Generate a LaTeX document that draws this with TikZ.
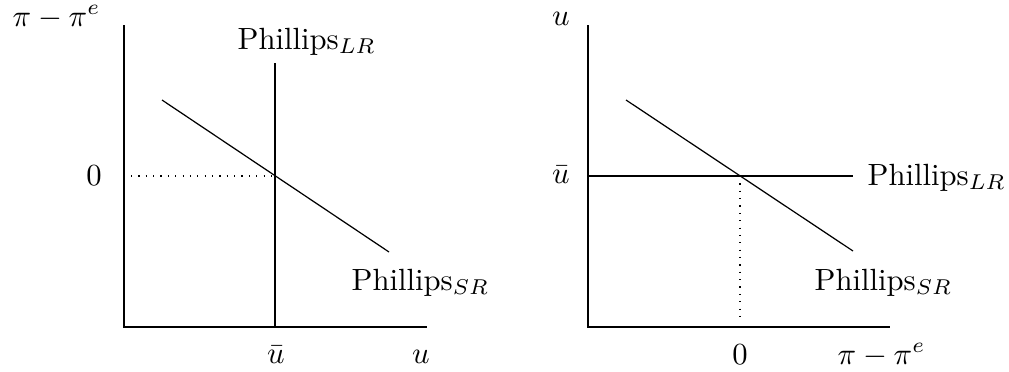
\documentclass[tikz,border=0pt]{standalone}
\begin{document}
\begin{tikzpicture}[x=0.326pt,y=-0.326pt,
  axis/.style={line width=0.5pt},
  curve/.style={line width=0.4pt},
  guide/.style={dotted,line width=0.4pt},
  lbl/.style={inner sep=0pt,anchor=base west},
  clbl/.style={inner sep=0pt,anchor=base}]
\useasboundingbox (0,0) rectangle (1009,372);
% ---- left panel ----
\coordinate (LO) at (124,327);
\coordinate (LYtop) at (124,25);
\coordinate (LXend) at (427,327);
\coordinate (LRtop) at (275,63);
\coordinate (LRbot) at (275,327);
\coordinate (SRa) at (162,100);
\coordinate (SRb) at (389,252);
\coordinate (Dst) at (131,176);
\coordinate (Den) at (275,176);
\draw[axis] (LYtop) -- (LO) -- (LXend);
\draw[curve] (LRtop) -- (LRbot);
\draw[curve] (SRa) -- (SRb);
\draw[guide] (Dst) -- (Den);
\node[lbl] (ly) at (12,26) {$\pi-\pi^e$};
\node[clbl] (lzero) at (94,185) {$0$};
\node[lbl] (llr) at (237,49) {Phillips$_{LR}$};
\node[lbl] (lsr) at (351,290) {Phillips$_{SR}$};
\node[clbl] (lubar) at (276,363) {$\bar u$};
\node[clbl] (lu) at (421,363) {$u$};
% ---- right panel ----
\coordinate (RO) at (588,327);
\coordinate (RYtop) at (588,25);
\coordinate (RXend) at (890,327);
\coordinate (RLa) at (588,176);
\coordinate (RLb) at (853,176);
\coordinate (RSa) at (626,100);
\coordinate (RSb) at (853,251);
\coordinate (RDt) at (740,176);
\coordinate (RDb) at (740,322);
\draw[axis] (RYtop) -- (RO) -- (RXend);
\draw[curve] (RLa) -- (RLb);
\draw[curve] (RSa) -- (RSb);
\draw[guide] (RDt) -- (RDb);
\node[clbl] (ru) at (561,25) {$u$};
\node[clbl] (rubar) at (561,183) {$\bar u$};
\node[lbl] (rlr) at (867,185) {Phillips$_{LR}$};
\node[lbl] (rsr) at (814,290) {Phillips$_{SR}$};
\node[clbl] (rzero) at (740,364) {$0$};
\node[lbl] (rx) at (837,364) {$\pi-\pi^e$};
\end{tikzpicture}
\end{document}
